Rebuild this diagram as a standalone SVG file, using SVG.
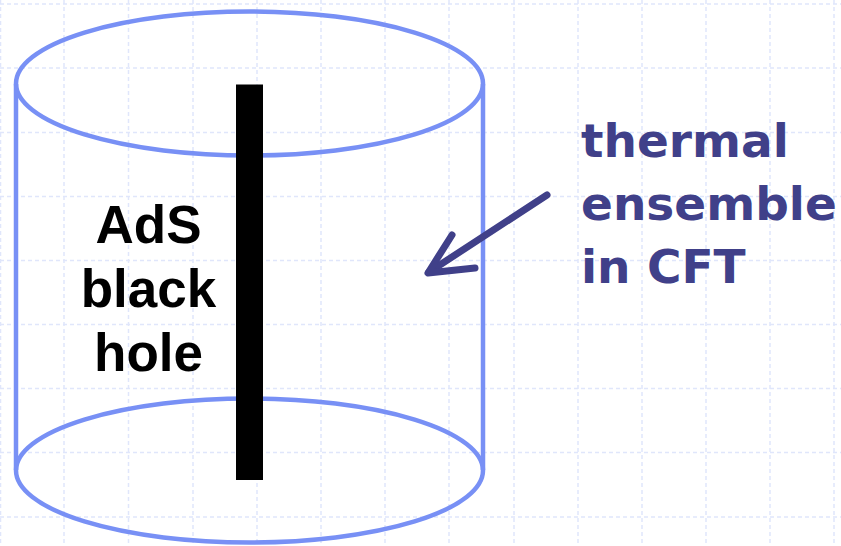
<svg xmlns="http://www.w3.org/2000/svg" width="841" height="546" viewBox="0 0 841 546">
  <defs>
    <style>
      .grid line { stroke: #e0e6fb; stroke-width: 1.5; stroke-dasharray: 4 3; }
      .rim { fill: none; stroke: #7890f5; stroke-width: 4.5; }
      .label-bh { font-family: "Liberation Sans", Arial, sans-serif; font-weight: bold; font-size: 53px; fill: #000; text-anchor: middle; }
      .label-cft { font-family: "DejaVu Sans", Verdana, sans-serif; font-weight: bold; font-size: 47px; fill: #404089; }
      .pointer { fill: none; stroke: #404089; stroke-width: 7; stroke-linecap: round; stroke-linejoin: round; }
    </style>
  </defs>
  <rect width="841" height="546" fill="#fff"/>
  <!-- background grid -->
  <g class="grid">
    <line x1="0.5" y1="0" x2="0.5" y2="546"/>
    <line x1="64" y1="0" x2="64" y2="546"/>
    <line x1="128.5" y1="0" x2="128.5" y2="546"/>
    <line x1="193" y1="0" x2="193" y2="546"/>
    <line x1="257" y1="0" x2="257" y2="546"/>
    <line x1="321" y1="0" x2="321" y2="546"/>
    <line x1="385" y1="0" x2="385" y2="546"/>
    <line x1="449" y1="0" x2="449" y2="546"/>
    <line x1="514" y1="0" x2="514" y2="546"/>
    <line x1="578" y1="0" x2="578" y2="546"/>
    <line x1="642" y1="0" x2="642" y2="546"/>
    <line x1="706" y1="0" x2="706" y2="546"/>
    <line x1="770" y1="0" x2="770" y2="546"/>
    <line x1="834" y1="0" x2="834" y2="546"/>
    <line x1="0" y1="4" x2="841" y2="4"/>
    <line x1="0" y1="68" x2="841" y2="68"/>
    <line x1="0" y1="132.5" x2="841" y2="132.5"/>
    <line x1="0" y1="196.5" x2="841" y2="196.5"/>
    <line x1="0" y1="260.5" x2="841" y2="260.5"/>
    <line x1="0" y1="324.5" x2="841" y2="324.5"/>
    <line x1="0" y1="388.5" x2="841" y2="388.5"/>
    <line x1="0" y1="452.5" x2="841" y2="452.5"/>
    <line x1="0" y1="517" x2="841" y2="517"/>
  </g>

  <!-- AdS cylinder -->
  <g id="cylinder">
    <ellipse class="rim" cx="249.5" cy="83.5" rx="233.5" ry="72"/>
    <line class="rim" x1="16" y1="84" x2="16" y2="470"/>
    <line class="rim" x1="483" y1="84" x2="483" y2="470"/>
    <ellipse class="rim" cx="249.5" cy="470.5" rx="233.5" ry="72"/>
  </g>

  <!-- black hole worldline -->
  <g id="black-hole">
    <rect x="236" y="84.5" width="27" height="395.5" fill="#000"/>
    <text class="label-bh" x="148.5" y="243">AdS</text>
    <text class="label-bh" x="148.5" y="307">black</text>
    <text class="label-bh" x="148.5" y="371">hole</text>
  </g>

  <!-- boundary label -->
  <g id="cft-label">
    <text class="label-cft" x="581" y="157">thermal</text>
    <text class="label-cft" x="581" y="220">ensemble</text>
    <text class="label-cft" x="581" y="283">in CFT</text>
  </g>

  <!-- pointer from label to boundary -->
  <g id="connectors">
    <path class="pointer" d="M547 195 L429 272"/>
    <path class="pointer" d="M452 235 L428 273 L475 268"/>
  </g>
</svg>
